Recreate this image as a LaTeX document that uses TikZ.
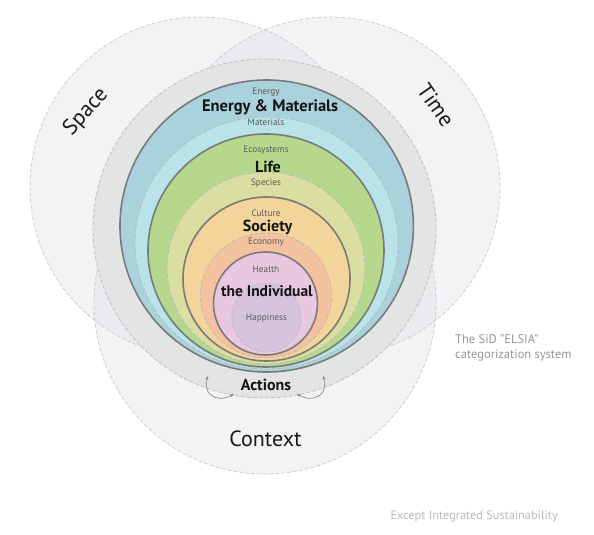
\documentclass[tikz,border=0pt]{standalone}
\usepackage{fontspec}
\setmainfont{PT Sans}
\usetikzlibrary{arrows.meta}
\definecolor{venn}{RGB}{214,218,222}
\definecolor{vennline}{RGB}{200,202,204}
\definecolor{ringgray}{RGB}{227,228,228}
\definecolor{ringline}{RGB}{190,192,194}
\definecolor{cblue}{RGB}{170,210,220}
\definecolor{ccyan}{RGB}{185,227,233}
\definecolor{cgreen}{RGB}{181,216,140}
\definecolor{clgreen}{RGB}{218,222,160}
\definecolor{corange}{RGB}{243,213,155}
\definecolor{csalmon}{RGB}{244,194,158}
\definecolor{cpink}{RGB}{233,199,224}
\definecolor{clav}{RGB}{214,195,222}
\definecolor{darkline}{RGB}{122,122,124}
\definecolor{dashline}{RGB}{185,185,188}
\definecolor{smalltext}{RGB}{90,90,92}
\definecolor{notegray}{RGB}{150,150,150}
\definecolor{notelight}{RGB}{185,185,185}
\definecolor{arrowgray}{RGB}{140,140,142}
\tikzset{
  vennfill/.style={fill=venn, fill opacity=0.3},
  vennedge/.style={draw=vennline, line width=0.7pt, dash pattern=on 4pt off 2pt},
  solidring/.style={draw=darkline, line width=1.6pt},
  dashring/.style={draw=dashline, line width=0.8pt, dash pattern=on 4pt off 2pt},
  bigtext/.style={font=\fontsize{16}{16}\selectfont\bfseries, text=black!92, inner sep=0pt},
  smalllabel/.style={font=\fontsize{9.3}{9.3}\selectfont, text=smalltext, inner sep=0pt},
  venntext/.style={font=\fontsize{22}{22}\selectfont, text=black!90, inner sep=0pt},
  cyclearrow/.style={draw=arrowgray, line width=0.7pt, {Stealth[length=4pt,width=3.2pt]}-{Stealth[length=4pt,width=3.2pt]}}
}
\begin{document}
\begin{tikzpicture}[x=1pt, y=-1pt]
\useasboundingbox (0,0) rectangle (594,535);
\fill[white] (0,0) rectangle (594,535);
% Venn circles: Space, Time, Context
\fill[vennfill] (200,187) circle [radius=170pt];
\fill[vennfill] (330,187) circle [radius=170pt];
\fill[vennfill] (265,303) circle [radius=171pt];
\draw[vennedge] (200,187) circle [radius=170pt];
\draw[vennedge] (330,187) circle [radius=170pt];
\draw[vennedge] (265,303) circle [radius=171pt];
% gray ring
\filldraw[fill=ringgray, dashring, draw=ringline] (264.5,228.5) ellipse [x radius=171.5pt, y radius=169.5pt];
% Energy & Materials
\filldraw[fill=cblue, solidring] (266.7,226) ellipse [x radius=146.7pt, y radius=146pt];
\filldraw[fill=ccyan, dashring] (266.5,243) ellipse [x radius=131.5pt, y radius=126pt];
% Life
\filldraw[fill=cgreen, solidring] (266,250.5) ellipse [x radius=118pt, y radius=116.5pt];
\filldraw[fill=clgreen, dashring] (266,268) ellipse [x radius=99pt, y radius=96pt];
% Society
\filldraw[fill=corange, solidring] (266.5,279) ellipse [x radius=83.5pt, y radius=82pt];
\filldraw[fill=csalmon, dashring] (266,295.5) ellipse [x radius=65.5pt, y radius=62.5pt];
% Individual
\filldraw[fill=cpink, solidring] (265.5,303.5) ellipse [x radius=52pt, y radius=51.5pt];
\filldraw[fill=clav, dashring, draw=dashline!80!clav] (266.5,317.5) ellipse [x radius=34.5pt, y radius=34.5pt];
% labels
\node[smalllabel] (energy) at (266,92) {Energy};
\node[bigtext, font=\fontsize{16.5}{16.5}\selectfont\bfseries] (em) at (270,107) {Energy \& Materials};
\node[smalllabel] (materials) at (266,122) {Materials};
\node[smalllabel] (eco) at (266,150) {Ecosystems};
\node[bigtext] (life) at (268,167) {Life};
\node[smalllabel] (species) at (266,183) {Species};
\node[smalllabel] (culture) at (266,213) {Culture};
\node[bigtext] (society) at (267.5,227) {Society};
\node[smalllabel] (economy) at (266,242) {Economy};
\node[smalllabel] (health) at (266,269.5) {Health};
\node[bigtext, font=\fontsize{15.5}{15.5}\selectfont\bfseries] (indiv) at (267,291) {the Individual};
\node[smalllabel] (happy) at (266.5,318) {Happiness};
\node[bigtext] (actions) at (266,385) {Actions};
\node[venntext] (context) at (265.5,439) {Context};
\node[venntext, rotate=48] (space) at (86,112) {Space};
\node[venntext, rotate=-55] (time) at (436,105) {Time};
\node[font=\fontsize{12.5}{15}\selectfont, text=notegray, align=left, anchor=west, inner sep=0pt] (note) at (455,347.5) {The SiD "ELSIA"\\categorization system};
\node[font=\fontsize{12.3}{12.3}\selectfont, text=notelight, anchor=east, inner sep=0pt] (credit) at (558,516) {Except Integrated Sustainability};
% cycle arrows
\coordinate (la) at (208,376);
\coordinate (lb) at (234,394);
\coordinate (ra) at (323,376);
\coordinate (rb) at (297,394);
\draw[cyclearrow] (la) .. controls (202,393) and (216,404) .. (lb);
\draw[cyclearrow] (ra) .. controls (329,393) and (315,404) .. (rb);
\end{tikzpicture}
\end{document}
